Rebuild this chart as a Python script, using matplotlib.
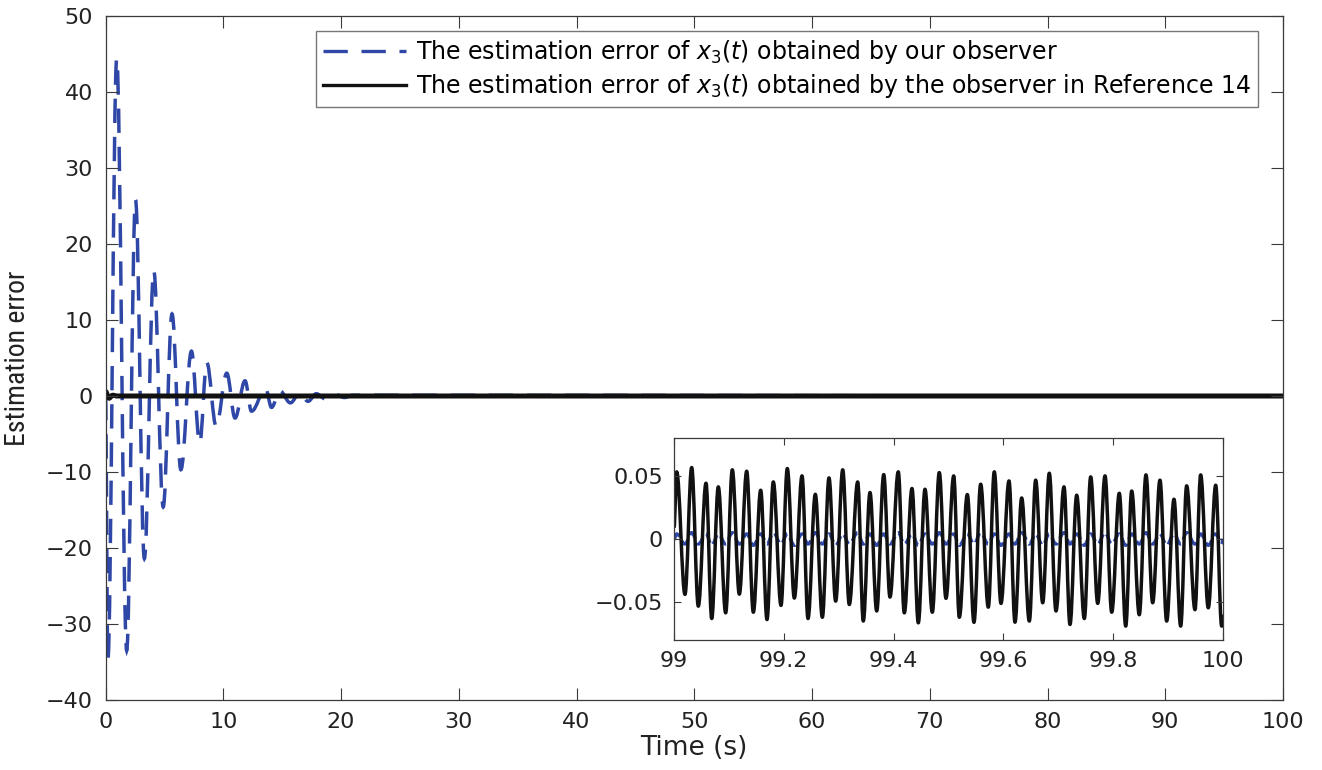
import matplotlib
matplotlib.use("Agg")
import matplotlib.pyplot as plt
from matplotlib import font_manager as fm
from matplotlib.path import Path
from matplotlib.patches import PathPatch
from matplotlib.lines import Line2D

# ---------------- data ----------------
# Main plot: blue dashed estimation error (our observer) -- extrema
blue_t = [0, 0.2, 0.95, 1.8, 2.55, 3.3, 4.1, 4.9, 5.65, 6.4, 7.3, 8.0, 8.6, 9.4,
          10.3, 11.0, 11.85, 12.4, 13.6, 14.1, 14.8, 15.7, 16.5, 17.2, 17.9,
          18.7, 19.5, 20.3, 21.0, 100]
blue_v = [0, -34.8, 44.4, -33.5, 25.8, -21.4, 16.5, -14.6, 10.8, -9.7, 5.9, -6.2,
          4.4, -4.0, 3.0, -2.9, 2.0, -2.0, 1.0, -1.5, 0.7, -0.9, 0.4, -0.7, 0.3,
          -0.4, 0.2, -0.2, 0.1, 0]

# Main plot: black estimation error (observer in Reference 14)
black_t = [0, 0.3, 0.6, 1.0, 100]
black_v = [0.6, -0.3, 0.1, 0.0, 0.0]

# Inset (99 s .. 100 s): black curve extrema
ins_black_t = [99.0, 99.0049, 99.0200, 99.0322, 99.0443, 99.0583, 99.0687, 99.0807,
               99.0941, 99.1062, 99.1190, 99.1324, 99.1445, 99.1579, 99.1694,
               99.1809, 99.1949, 99.2064, 99.2192, 99.2332, 99.2441, 99.2574,
               99.2702, 99.2823, 99.2945, 99.3073, 99.3193, 99.3346, 99.3448,
               99.3570, 99.3692, 99.3820, 99.3934, 99.4085, 99.4195, 99.4335,
               99.4450, 99.4572, 99.4705, 99.4832, 99.4954, 99.5095, 99.5197,
               99.5343, 99.5464, 99.5586, 99.5725, 99.5834, 99.5956, 99.6102,
               99.6211, 99.6333, 99.6472, 99.6588, 99.6716, 99.6836, 99.6958,
               99.7104, 99.7213, 99.7335, 99.7474, 99.7590, 99.7718, 99.7851,
               99.7973, 99.8111, 99.8228, 99.8337, 99.8475, 99.8597, 99.8719,
               99.8852, 99.8974, 99.9107, 99.9229, 99.9338, 99.9490, 99.9593,
               99.9732, 99.9867, 99.9976, 100.0]
ins_black_v = [0.009, 0.0532, -0.0439, 0.0566, -0.0532, 0.0442, -0.0630, 0.0413,
               -0.0585, 0.0548, -0.0437, 0.0537, -0.0580, 0.0386, -0.0638, 0.0452,
               -0.0526, 0.0558, -0.0468, 0.0500, -0.0630, 0.0354, -0.0620, 0.0484,
               -0.0492, 0.0548, -0.0519, 0.0452, -0.0650, 0.0368, -0.0570, 0.0510,
               -0.0460, 0.0532, -0.0585, 0.0400, -0.0664, 0.0394, -0.0580, 0.0526,
               -0.0470, 0.0500, -0.0620, 0.0352, -0.0660, 0.0434, -0.0540, 0.0532,
               -0.0510, 0.0460, -0.0659, 0.0325, -0.0650, 0.0466, -0.0505, 0.0521,
               -0.0570, 0.0413, -0.0677, 0.0347, -0.0630, 0.0492, -0.0510, 0.0500,
               -0.0580, 0.0362, -0.0690, 0.0380, -0.0600, 0.0508, -0.0505, 0.0466,
               -0.0650, 0.0315, -0.0690, 0.0421, -0.0560, 0.0508, -0.0545, 0.0426,
               -0.0690, -0.0600]

# Inset: blue curve (small ripple around zero)
ins_blue_t = ins_black_t
ins_blue_v = [0.0, 0.004, -0.004, 0.005, -0.004, 0.004, -0.005, 0.004, -0.004,
              0.005, -0.004, 0.004, -0.005, 0.004, -0.004, 0.005, -0.004, 0.004,
              -0.005, 0.004, -0.004, 0.005, -0.004, 0.004, -0.005, 0.004, -0.004,
              0.005, -0.004, 0.004, -0.005, 0.004, -0.004, 0.005, -0.004, 0.004,
              -0.005, 0.004, -0.004, 0.005, -0.004, 0.004, -0.005, 0.004, -0.004,
              0.005, -0.004, 0.004, -0.005, 0.004, -0.004, 0.005, -0.004, 0.004,
              -0.005, 0.004, -0.004, 0.005, -0.004, 0.004, -0.005, 0.004, -0.004,
              0.005, -0.004, 0.004, -0.005, 0.004, -0.004, 0.005, -0.004, 0.004,
              -0.005, 0.004, -0.004, 0.005, -0.004, 0.004, -0.005, 0.004, -0.004,
              0.0]

main_xticks = [0, 10, 20, 30, 40, 50, 60, 70, 80, 90, 100]
main_yticks = [-40, -30, -20, -10, 0, 10, 20, 30, 40, 50]
ins_xticks = [99, 99.2, 99.4, 99.6, 99.8, 100]
ins_xticklabels = ["99", "99.2", "99.4", "99.6", "99.8", "100"]
ins_yticks = [-0.05, 0, 0.05]
ins_yticklabels = ["\u22120.05", "0", "0.05"]

label_blue = r"The estimation error of $x_3(t)$ obtained by our observer"
label_black = r"The estimation error of $x_3(t)$ obtained by the observer in Reference 14"
xlabel = "Time (s)"
ylabel = "Estimation error"


# ---------------- fonts ----------------
def has_font(name, **kw):
    try:
        fm.findfont(fm.FontProperties(family=name, **kw), fallback_to_default=False)
        return True
    except Exception:
        return False

main_font = "DejaVu Sans"
narrow_font = None
for cand in ["Liberation Sans Narrow", "Arial Narrow", "Roboto Condensed", "Open Sans Condensed"]:
    if has_font(cand):
        narrow_font = cand
        break
if narrow_font is None:
    narrow_font = "Liberation Sans"

plt.rcParams["font.family"] = [main_font]
plt.rcParams["mathtext.fontset"] = "custom"
plt.rcParams["mathtext.rm"] = main_font
plt.rcParams["mathtext.it"] = main_font + ":italic"

BLUE = "#2f47a6"
BLACK = "#111111"
AX = "#3a3a3a"
TXT = "#222222"


def smooth_curve(ax, ts, vs, k=0.37, **kw):
    """Draw a smooth curve through the given extrema (horizontal tangents)."""
    verts = [(ts[0], vs[0])]
    codes = [Path.MOVETO]
    for i in range(len(ts) - 1):
        dt = ts[i + 1] - ts[i]
        verts += [(ts[i] + k * dt, vs[i]), (ts[i + 1] - k * dt, vs[i + 1]),
                  (ts[i + 1], vs[i + 1])]
        codes += [Path.CURVE4] * 3
    patch = PathPatch(Path(verts, codes), fill=False, transform=ax.transData, **kw)
    ax.add_patch(patch)
    return patch


W, H = 1322, 770
fig = plt.figure(figsize=(W / 100, H / 100), dpi=100)

ax = fig.add_axes([105.5 / W, 1 - 700 / H, (1283 - 105.5) / W, (700 - 16) / H])
smooth_curve(ax, blue_t, blue_v, edgecolor=BLUE, lw=2.5,
             linestyle=(0, (7.0, 4.0)), capstyle="butt")
smooth_curve(ax, black_t, black_v, edgecolor=BLACK, lw=3.6, joinstyle="round")
ax.set_xlim(0, 100)
ax.set_ylim(-40, 50)
ax.set_xticks(main_xticks)
ax.set_yticks(main_yticks)
ax.tick_params(direction="in", top=True, right=True, length=8.5, width=0.8,
               color=AX, labelsize=16, labelcolor=TXT, pad=9)
for s in ax.spines.values():
    s.set_color(AX)
    s.set_linewidth(0.9)
ax.set_xlabel(xlabel, fontsize=19, color=TXT, labelpad=2)
ax.set_ylabel(ylabel, fontsize=20, color=TXT, family=narrow_font, labelpad=11)

h_blue = Line2D([], [], color=BLUE, lw=2.4, linestyle=(0, (7.3, 4.1)))
h_black = Line2D([], [], color=BLACK, lw=2.4)
leg = ax.legend(handles=[h_blue, h_black], labels=[label_blue, label_black],
                loc="upper right",
                bbox_to_anchor=(1258 / W, 1 - 31 / H), bbox_transform=fig.transFigure,
                fontsize=17, frameon=True, fancybox=False, edgecolor="#555555",
                handlelength=3.5, handletextpad=0.45, borderpad=0.3, labelspacing=0.25,
                borderaxespad=0)
leg.get_frame().set_linewidth(1.0)

# Inset
axi = fig.add_axes([674 / W, 1 - 640 / H, (1223 - 674) / W, (640 - 438) / H])
smooth_curve(axi, ins_blue_t, ins_blue_v, edgecolor=BLUE, lw=2.4,
             linestyle=(0, (3.0, 1.5)))
smooth_curve(axi, ins_black_t, ins_black_v, edgecolor=BLACK, lw=2.5, joinstyle="round")
axi.set_xlim(99, 100)
axi.set_ylim(-0.08, 0.08)
axi.set_xticks(ins_xticks)
axi.set_xticklabels(ins_xticklabels)
axi.set_yticks(ins_yticks)
axi.set_yticklabels(ins_yticklabels)
axi.tick_params(direction="in", top=True, right=True, length=5, width=0.8,
                color=AX, labelsize=16, labelcolor=TXT, pad=8)
for s in axi.spines.values():
    s.set_color(AX)
    s.set_linewidth(0.9)

fig.savefig("out.png", dpi=100)
